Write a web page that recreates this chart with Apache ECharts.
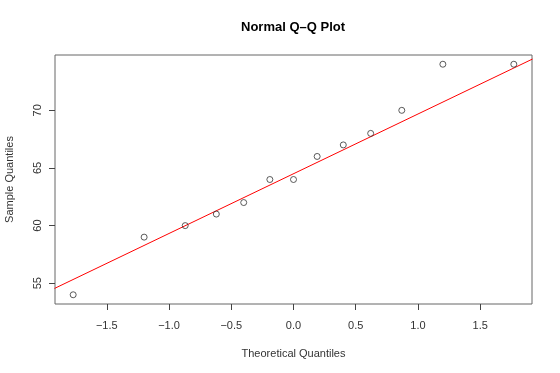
<!DOCTYPE html>
<html lang="en">
<head>
  <meta charset="UTF-8">
  <title>Normal Q-Q Plot</title>
  <script src="https://cdn.jsdelivr.net/npm/echarts@6/dist/echarts.min.js"></script>
  <style>
    html, body {
      margin: 0;
      padding: 0;
      background: #fff;
    }

    #chart-main {
      width: 560px;
      height: 373px;
    }
  </style>
</head>
<body>
<div id="chart-main"></div>

<script type="text/javascript">
  // theoretical quantiles (x) and sorted sample values (y)
  const theoretical = [-1.77, -1.2, -0.87, -0.62, -0.4, -0.19, 0, 0.19, 0.4, 0.62, 0.87, 1.2, 1.77]
  const sample = [54, 59, 60, 61, 62, 64, 64, 66, 67, 68, 70, 74, 74]
  const xTicks = [-1.5, -1.0, -0.5, 0.0, 0.5, 1.0, 1.5]
  const yTicks = [55, 60, 65, 70]
  // qq reference line end points
  const lineX = [-1.92, 1.92]
  const lineY = [54.55, 74.45]

  const font = '"Liberation Sans", Arial, sans-serif'
  const minus = v => String(v).replace('-', '\u2212')

  let chart = echarts.init(document.getElementById('chart-main'))

  let option = {
    animation: false,
    backgroundColor: '#fff',
    title: {
      text: 'Normal Q\u2013Q Plot',
      left: 241,
      top: 21,
      padding: 0,
      textStyle: {
        fontFamily: font,
        fontSize: 13,
        fontWeight: 'bold',
        color: '#000'
      }
    },
    grid: {
      left: 55,
      right: 28,
      top: 55,
      bottom: 69,
      containLabel: false,
      outerBoundsMode: 'none',
      show: true,
      borderColor: '#666',
      borderWidth: 1
    },
    xAxis: {
      type: 'value',
      min: -1.916,
      max: 1.916,
      name: 'Theoretical Quantiles',
      nameLocation: 'middle',
      nameGap: 44,
      nameTextStyle: { fontFamily: font, fontSize: 11, color: '#333' },
      splitLine: { show: false },
      axisLine: { show: false, onZero: false },
      axisTick: {
        customValues: xTicks,
        length: 6,
        lineStyle: { color: '#444' }
      },
      axisLabel: {
        customValues: xTicks,
        margin: 16,
        fontFamily: font,
        fontSize: 11,
        color: '#333',
        formatter: v => minus(v.toFixed(1))
      }
    },
    yAxis: {
      type: 'value',
      min: 53.2,
      max: 74.8,
      name: 'Sample Quantiles',
      nameLocation: 'middle',
      nameGap: 40,
      nameTextStyle: { fontFamily: font, fontSize: 11, color: '#333' },
      splitLine: { show: false },
      axisLine: { show: false, onZero: false },
      axisTick: {
        customValues: yTicks,
        length: 6,
        lineStyle: { color: '#444' }
      },
      axisLabel: {
        customValues: yTicks,
        rotate: 90,
        margin: 12,
        fontFamily: font,
        fontSize: 11,
        color: '#333'
      }
    },
    series: [
      {
        type: 'scatter',
        data: theoretical.map((x, i) => [x, sample[i]]),
        symbol: 'circle',
        symbolSize: 6,
        itemStyle: {
          color: 'rgba(0,0,0,0)',
          borderColor: '#333',
          borderWidth: 1
        },
        z: 3
      },
      {
        type: 'line',
        data: lineX.map((x, i) => [x, lineY[i]]),
        showSymbol: false,
        clip: true,
        lineStyle: { color: '#ff0000', width: 1 },
        z: 2
      }
    ]
  }

  chart.setOption(option)
</script>
</body>
</html>
